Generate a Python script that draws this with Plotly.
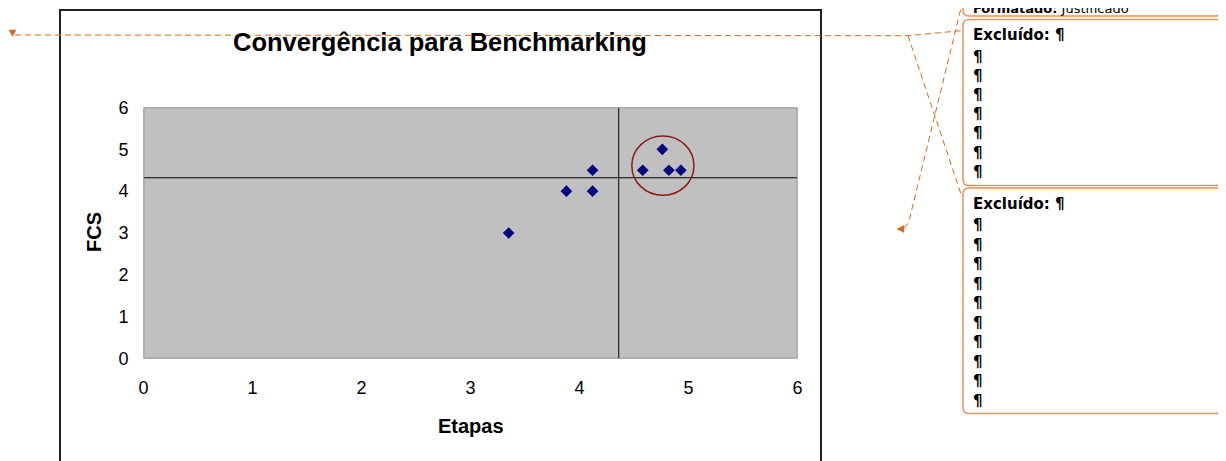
import plotly.graph_objects as go

W, H = 1226, 461
OFF = 8  # margem do body da página

# dados do gráfico
etapas = [3.35, 3.88, 4.12, 4.12, 4.58, 4.76, 4.82, 4.93]
fcs = [3.0, 4.0, 4.0, 4.5, 4.5, 5.0, 4.5, 4.5]
media_etapas = 4.36
media_fcs = 4.32
ticks_x = [0, 1, 2, 3, 4, 5, 6]
ticks_y = [0, 1, 2, 3, 4, 5, 6]

# balões de revisão
balao_formatado = ["Formatado:", "Justificado"]
balao_2 = ["Excluído: ¶"] + ["¶"] * 7
balao_3 = ["Excluído: ¶"] + ["¶"] * 10

LARANJA = "#D5691F"
BORDA_BALAO = "#E8935A"


def px(x):
    return (x - OFF) / W


def py(y):
    return 1 - (y - OFF) / H


def caixa_arredondada(x0, y0, x1, y1, r):
    pts = [
        ("M", [(x0 + r, y0)]),
        ("L", [(x1 - r, y0)]),
        ("Q", [(x1, y0), (x1, y0 + r)]),
        ("L", [(x1, y1 - r)]),
        ("Q", [(x1, y1), (x1 - r, y1)]),
        ("L", [(x0 + r, y1)]),
        ("Q", [(x0, y1), (x0, y1 - r)]),
        ("L", [(x0, y0 + r)]),
        ("Q", [(x0, y0), (x0 + r, y0)]),
    ]
    s = ""
    for cmd, p in pts:
        s += cmd + " " + " ".join(f"{px(a):.5f},{py(b):.5f}" for a, b in p) + " "
    return s + "Z"


def caminho(pontos):
    s = "M " + " L ".join(f"{px(a):.5f},{py(b):.5f}" for a, b in pontos)
    return s


fig = go.Figure()

fig.add_trace(go.Scatter(
    x=etapas, y=fcs,
    mode="markers",
    marker=dict(symbol="diamond", size=9, color="#000080"),
    showlegend=False,
    hoverinfo="skip",
))

shapes = []

# moldura do gráfico
shapes.append(dict(type="rect", xref="paper", yref="paper",
                   x0=px(60), x1=px(821), y0=py(10), y1=py(480),
                   line=dict(color="#222222", width=2), layer="below"))

# linhas de referência
shapes.append(dict(type="line", xref="x", yref="y", x0=media_etapas, x1=media_etapas,
                   y0=0, y1=6, line=dict(color="black", width=1)))
shapes.append(dict(type="line", xref="x", yref="y", x0=0, x1=6,
                   y0=media_fcs, y1=media_fcs, line=dict(color="black", width=1)))

# borda da área de plotagem
shapes.append(dict(type="rect", xref="x", yref="y", x0=0, x1=6, y0=0, y1=6,
                   line=dict(color="#808080", width=1.5)))

# círculo de destaque
shapes.append(dict(type="circle", xref="x", yref="y", x0=4.48, x1=5.05, y0=3.90, y1=5.32,
                   line=dict(color="#8B1A1A", width=1.5)))

# balões
for (a, b, c, d) in [(963, -20, 1221.5, 16), (963, 19.5, 1221.5, 185.5), (963, 188, 1221.5, 413.5)]:
    shapes.append(dict(type="path", xref="paper", yref="paper",
                       path=caixa_arredondada(a, b, c, d, 6),
                       line=dict(color=BORDA_BALAO, width=1.5)))

# linhas tracejadas de marcação
tracejado = dict(color=LARANJA, width=1, dash="6px,4px")
for pts in [
    [(15, 35), (908, 35.7), (963, 30.5)],
    [(908, 35.7), (962, 197)],
    [(963, 0), (908.5, 223), (903, 229)],
]:
    shapes.append(dict(type="path", xref="paper", yref="paper",
                       path=caminho(pts), line=tracejado))

# setas
shapes.append(dict(type="path", xref="paper", yref="paper",
                   path=caminho([(9, 30), (16, 30), (12.5, 36.5)]) + " Z",
                   fillcolor=LARANJA, line=dict(color=LARANJA, width=0.5)))
shapes.append(dict(type="path", xref="paper", yref="paper",
                   path=caminho([(897, 229), (904, 225.5), (904, 232.5)]) + " Z",
                   fillcolor=LARANJA, line=dict(color=LARANJA, width=0.5)))

annotations = []

annotations.append(dict(text="<b>Convergência para Benchmarking</b>", xref="paper", yref="paper",
                        x=px(440.5), y=py(42), xanchor="center", yanchor="middle", showarrow=False,
                        font=dict(family="Liberation Sans, Arial", size=25.5, color="black")))
annotations.append(dict(text="<b>Etapas</b>", xref="paper", yref="paper",
                        x=px(471), y=py(425.5), xanchor="center", yanchor="middle", showarrow=False,
                        font=dict(family="Liberation Sans, Arial", size=20, color="black")))
annotations.append(dict(text="<b>FCS</b>", xref="paper", yref="paper", textangle=-90,
                        x=px(93.5), y=py(232.5), xanchor="center", yanchor="middle", showarrow=False,
                        font=dict(family="Liberation Sans, Arial", size=20, color="black")))

fonte_balao = dict(family="DejaVu Sans", size=15, color="black")
annotations.append(dict(text=f"<b>{balao_formatado[0]}</b> {balao_formatado[1]}", xref="paper", yref="paper",
                        x=px(971), y=py(9), xanchor="left", yanchor="middle", showarrow=False,
                        font=dict(family="DejaVu Sans", size=13, color="black")))
for i, linha in enumerate(balao_2):
    y = 35 if i == 0 else 57 + 19.1 * (i - 1)
    annotations.append(dict(text=f"<b>{linha}</b>", xref="paper", yref="paper",
                            x=px(971), y=py(y), xanchor="left", yanchor="middle", showarrow=False,
                            font=fonte_balao))
for i, linha in enumerate(balao_3):
    y = 204 if i == 0 else 225 + 19.5 * (i - 1)
    annotations.append(dict(text=f"<b>{linha}</b>", xref="paper", yref="paper",
                            x=px(971), y=py(y), xanchor="left", yanchor="middle", showarrow=False,
                            font=fonte_balao))

fig.update_layout(
    width=W, height=H,
    margin=dict(l=0, r=0, t=0, b=0, autoexpand=False),
    paper_bgcolor="white",
    plot_bgcolor="#C0C0C0",
    shapes=shapes,
    annotations=annotations,
    xaxis=dict(domain=[px(143.5), px(797.5)], range=[0, 6], tickvals=ticks_x,
               showgrid=False, zeroline=False, showline=False, ticks="",
               ticklabelstandoff=16, automargin=False,
               tickfont=dict(family="Liberation Sans, Arial", size=18, color="black")),
    yaxis=dict(domain=[py(358.5), py(107.5)], range=[0, 6], tickvals=ticks_y,
               showgrid=False, zeroline=False, showline=False, ticks="",
               ticklabelstandoff=14, automargin=False,
               tickfont=dict(family="Liberation Sans, Arial", size=18, color="black")),
)

fig.write_html("out.html")
